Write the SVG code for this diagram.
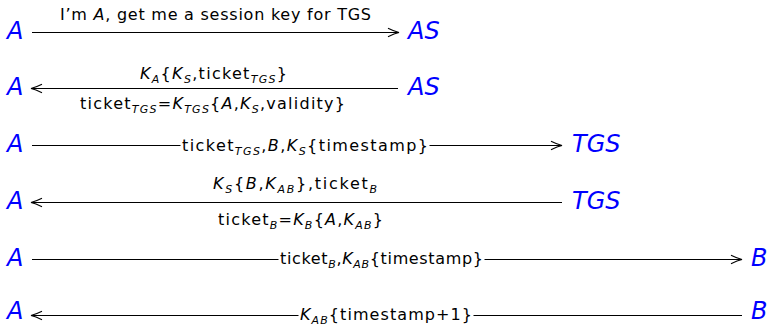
<svg xmlns="http://www.w3.org/2000/svg" width="770" height="325" viewBox="0 0 770 325">
  <style>
    .party { font-family: "DejaVu Sans", "Liberation Sans", sans-serif; font-style: italic; font-size: 24px; fill: #0000ff; }
    .msg { font-family: "DejaVu Sans", "Liberation Sans", sans-serif; font-size: 16px; fill: #000; }
    .m { font-style: italic; }
    .sb { font-style: italic; font-size: 11px; }
    .wire { stroke: #000; stroke-width: 1; fill: none; marker-end: url(#head); }
    .knock { fill: #fff; stroke: none; }
  </style>
  <defs>
    <marker id="head" markerUnits="userSpaceOnUse" markerWidth="14" markerHeight="12" viewBox="-12 -6 14 12" refX="0" refY="0" orient="auto">
      <path d="M-11,-4.2 Q-4.5,-1 0,0 Q-4.5,1 -11,4.2" fill="none" stroke="#000" stroke-width="1.1"/>
    </marker>
  </defs>

  <!-- parties, one per message row -->
  <g id="row1-A"><text class="party" x="7" y="39">A</text></g>
  <g id="row1-AS"><text class="party" x="408" y="39">AS</text></g>
  <g id="row2-A"><text class="party" x="7" y="95">A</text></g>
  <g id="row2-AS"><text class="party" x="408" y="95">AS</text></g>
  <g id="row3-A"><text class="party" x="7" y="152">A</text></g>
  <g id="row3-TGS"><text class="party" x="572" y="152">TGS</text></g>
  <g id="row4-A"><text class="party" x="7" y="209">A</text></g>
  <g id="row4-TGS"><text class="party" x="572" y="209">TGS</text></g>
  <g id="row5-A"><text class="party" x="7" y="266">A</text></g>
  <g id="row5-B"><text class="party" x="751" y="266">B</text></g>
  <g id="row6-A"><text class="party" x="7" y="319">A</text></g>
  <g id="row6-B"><text class="party" x="751" y="319">B</text></g>

  <!-- messages -->
  <g id="messages">
    <!-- 1: A -> AS -->
    <path class="wire" d="M32,32.5 H399"/>
    <text class="msg" x="60" y="19.5" textLength="311" lengthAdjust="spacing">I’m <tspan class="m">A</tspan>, get me a session key for TGS</text>

    <!-- 2: AS -> A -->
    <path class="wire" d="M398,88.5 H31"/>
    <text class="msg" x="140" y="78.5" textLength="147" lengthAdjust="spacing"><tspan class="m">K</tspan><tspan class="sb" dy="4">A</tspan><tspan dy="-4">{</tspan><tspan class="m">K</tspan><tspan class="sb" dy="4">S</tspan><tspan dy="-4">,ticket</tspan><tspan class="sb" dy="4">TGS</tspan><tspan dy="-4">}</tspan></text>
    <text class="msg" x="80" y="109" textLength="265" lengthAdjust="spacing">ticket<tspan class="sb" dy="4">TGS</tspan><tspan dy="-4">=</tspan><tspan class="m">K</tspan><tspan class="sb" dy="4">TGS</tspan><tspan dy="-4">{</tspan><tspan class="m">A</tspan>,<tspan class="m">K</tspan><tspan class="sb" dy="4">S</tspan><tspan dy="-4">,validity}</tspan></text>

    <!-- 3: A -> TGS -->
    <path class="wire" d="M32,145.5 H562"/>
    <rect class="knock" x="180.5" y="140" width="249" height="11"/>
    <text class="msg" x="182" y="150.5" textLength="246" lengthAdjust="spacing">ticket<tspan class="sb" dy="4">TGS</tspan><tspan dy="-4">,</tspan><tspan class="m">B</tspan>,<tspan class="m">K</tspan><tspan class="sb" dy="4">S</tspan><tspan dy="-4">{timestamp}</tspan></text>

    <!-- 4: TGS -> A -->
    <path class="wire" d="M562,202.5 H31"/>
    <text class="msg" x="213" y="189" textLength="164" lengthAdjust="spacing"><tspan class="m">K</tspan><tspan class="sb" dy="4">S</tspan><tspan dy="-4">{</tspan><tspan class="m">B</tspan>,<tspan class="m">K</tspan><tspan class="sb" dy="4">AB</tspan><tspan dy="-4">},ticket</tspan><tspan class="sb" dy="4">B</tspan></text>
    <text class="msg" x="218" y="224.5" textLength="165" lengthAdjust="spacing">ticket<tspan class="sb" dy="4">B</tspan><tspan dy="-4">=</tspan><tspan class="m">K</tspan><tspan class="sb" dy="4">B</tspan><tspan dy="-4">{</tspan><tspan class="m">A</tspan>,<tspan class="m">K</tspan><tspan class="sb" dy="4">AB</tspan><tspan dy="-4">}</tspan></text>

    <!-- 5: A -> B -->
    <path class="wire" d="M32,259.5 H742"/>
    <rect class="knock" x="278.5" y="254" width="206" height="11"/>
    <text class="msg" x="280" y="264" textLength="203" lengthAdjust="spacing">ticket<tspan class="sb" dy="4">B</tspan><tspan dy="-4">,</tspan><tspan class="m">K</tspan><tspan class="sb" dy="4">AB</tspan><tspan dy="-4">{timestamp}</tspan></text>

    <!-- 6: B -> A -->
    <path class="wire" d="M742,315.5 H31"/>
    <rect class="knock" x="298.5" y="310" width="175" height="11"/>
    <text class="msg" x="300" y="320" textLength="172" lengthAdjust="spacing"><tspan class="m">K</tspan><tspan class="sb" dy="3.5">AB</tspan><tspan dy="-3.5">{timestamp+1}</tspan></text>
  </g>
</svg>
